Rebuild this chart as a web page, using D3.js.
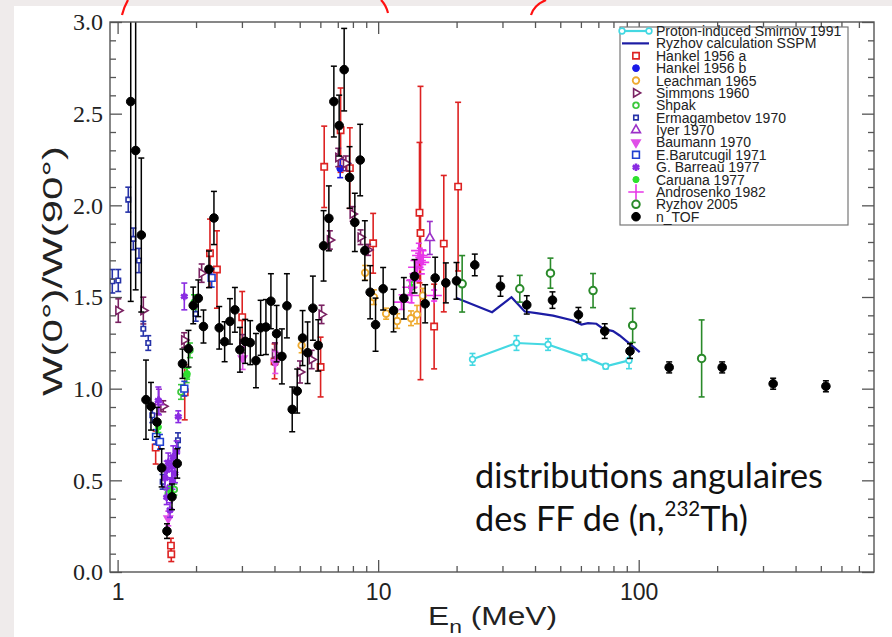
<!DOCTYPE html>
<html>
<head>
<meta charset="utf-8">
<script src="https://cdn.jsdelivr.net/npm/d3@7"></script>
<style>
html, body { margin: 0; padding: 0; background: #efebeb; }
svg { display: block; }
.serif { font-family: 'Liberation Serif', 'Times New Roman', serif; }
.sans { font-family: 'Liberation Sans', Arial, sans-serif; }
</style>
</head>
<body>
<svg id="chart" width="892" height="637"></svg>
<script>
// ---- data : [E (MeV), W(0)/W(90), error] ----
const smirnovProton = [[23.02,1.160,0.032],[33.96,1.249,0.04],[44.89,1.241,0.032],[61.9,1.172,0.018],[74.7,1.122,0.014],[91.8,1.154,0.045]];
const ryzhovCalc = [[19.98,1.494],[27.37,1.417],[32.49,1.499],[36.53,1.421],[40.52,1.412],[46.93,1.398],[55.98,1.372],[60.29,1.350],[63.9,1.357],[68.8,1.354],[72.96,1.327],[79.7,1.314],[84.5,1.290],[100.9,1.199]];
const hankelA = [[1.400,0.679,0.09],[1.602,0.144,0.04],[1.607,0.097,0.04],[1.810,0.980,0.15],[2.262,1.739,0.186],[2.406,1.650,0.211],[3.008,1.390,0.14],[4.004,1.149,0.095],[6.013,1.118,0.163],[6.208,2.210,0.222],[7.176,2.410,0.23],[7.789,2.203,0.22],[9.568,1.793,0.163],[14.41,1.960,0.383],[14.54,1.849,0.80],[16.40,1.339,0.231],[17.86,1.791,0.372],[20.27,2.102,0.46]];
const hankelB = [[7.15,2.201,0.05]];
const leachman = [[5.085,1.236,0.04],[8.916,1.632,0.04],[9.627,1.499,0.04],[10.73,1.409,0.03],[11.83,1.369,0.04],[13.37,1.384,0.04],[14.10,1.404,0.05],[14.84,1.507,0.04]];
const simmons = [[1.006,1.426,0.064],[1.255,1.426,0.073],[1.497,0.904,0.03],[1.80,1.265,0.04],[2.102,1.630,0.05],[3.019,1.245,0.05],[4.015,1.190,0.06],[5.012,1.091,0.06],[5.554,1.159,0.05],[6.066,1.405,0.05],[6.526,1.811,0.05],[7.025,2.261,0.05],[7.517,2.229,0.04],[7.977,1.953,0.04],[8.560,1.826,0.04],[9.154,1.757,0.03]];
const shpak = [[1.565,0.428,0.03],[1.650,0.450,0.03],[1.751,0.982,0.04],[1.841,1.073,0.04],[1.895,1.209,0.04]];
const ermagambetov = [[0.954,1.586,0.064],[1.006,1.590,0.06],[1.099,2.031,0.068],[1.149,1.817,0.059],[1.208,1.699,0.066],[1.255,1.327,0.04],[1.311,1.249,0.04],[1.359,0.855,0.04],[1.489,0.492,0.04],[1.705,0.719,0.04],[1.994,1.408,0.04]];
const iyer = [[1.441,0.927,0.07],[15.79,1.822,0.09]];
const baumann = [[1.565,0.292,0.04],[3.02,1.165,0.06],[4.03,1.143,0.06]];
const barutcugil = [[1.404,0.737,0.04],[1.454,0.710,0.04],[1.803,1.000,0.04],[2.296,1.604,0.05]];
const barreau = [[1.803,1.503,0.073],[1.433,0.936,0.073],[1.710,0.847,0.032],[1.519,0.512,0.05],[1.543,0.555,0.05],[1.565,0.599,0.05],[1.589,0.464,0.05],[1.613,0.573,0.06],[1.635,0.628,0.06],[1.660,0.537,0.05],[1.685,0.655,0.06],[1.589,0.338,0.04],[1.543,0.408,0.04],[1.624,0.501,0.05]];
const caruana = [[1.433,0.791,0.03],[1.602,0.436,0.03],[1.849,1.082,0.03],[1.964,1.472,0.04],[13.43,1.553,0.03]];
const androsenko = [[12.30,1.472,0.04],[13.23,1.553,0.04],[13.43,1.508,0.04],[13.71,1.590,0.04],[13.95,1.662,0.04],[14.11,1.626,0.04],[14.24,1.699,0.04],[14.45,1.726,0.04],[14.67,1.689,0.04],[14.88,1.717,0.04],[14.32,1.753,0.04],[16.40,1.508,0.03]];
const ryzhov2005 = [[21.01,1.572,0.154],[34.96,1.545,0.073],[45.85,1.630,0.082],[66.8,1.535,0.093],[94.8,1.345,0.093],[174.4,1.165,0.21]];
const nTOF = [[1.123,2.566,1.09],[1.173,2.299,0.76],[1.233,1.838,0.42],[1.285,0.940,0.216],[1.343,0.904,0.13],[1.416,0.818,0.08],[1.476,0.568,0.104],[1.547,0.223,0.04],[1.617,0.410,0.07],[1.694,0.592,0.08],
  [1.774,1.136,0.08],[1.871,1.218,0.10],[1.951,1.454,0.10],[2.040,1.493,0.10],[2.136,1.339,0.09],[2.242,1.651,0.10],[2.343,1.931,0.145],[2.455,1.332,0.116],[2.575,1.256,0.109],[2.699,1.367,0.124],
  [2.820,1.430,0.122],[2.948,1.212,0.122],[3.089,1.258,0.12],[3.228,1.251,0.12],[3.396,1.153,0.148],[3.540,1.332,0.15],[3.709,1.336,0.15],[3.876,1.477,0.15],[4.076,1.300,0.154],[4.272,1.176,0.15],
  [4.465,1.452,0.175],[4.679,0.887,0.122],[4.890,0.987,0.12],[5.129,1.276,0.15],[5.360,1.196,0.168],[5.617,1.439,0.175],[5.887,1.236,0.14],[6.174,1.779,0.192],[6.469,1.929,0.177],[6.761,2.566,0.193],
  [7.085,2.435,0.166],[7.405,2.740,0.225],[7.767,2.152,0.168],[8.138,1.907,0.159],[8.531,2.247,0.195],[8.892,1.753,0.163],[9.318,1.526,0.145],[9.773,1.349,0.145],[10.45,1.545,0.116],[11.46,1.426,0.116],
  [12.55,1.493,0.113],[13.79,1.613,0.091],[15.15,1.463,0.104],[16.55,1.604,0.113],[18.19,1.577,0.109],[19.98,1.588,0.10],[23.49,1.675,0.059],[29.48,1.559,0.055],[37.19,1.457,0.05],[46.67,1.483,0.045],
  [58.71,1.403,0.04],[74.06,1.314,0.04],[92.6,1.205,0.04],[130.9,1.116,0.03],[209.1,1.116,0.03],[328.1,1.027,0.03],[523,1.013,0.03]];

const xMajorTicks = [1, 10, 100];
const xMinorTicks = [2,3,4,5,6,7,8,9,20,30,40,50,60,70,80,90,200,300,400,500,600,700];
const yMajorTicks = [0, 0.5, 1.0, 1.5, 2.0, 2.5, 3.0];
const yMinorTicks = [0.1,0.2,0.3,0.4,0.6,0.7,0.8,0.9,1.1,1.2,1.3,1.4,1.6,1.7,1.8,1.9,2.1,2.2,2.3,2.4,2.6,2.7,2.8,2.9];

// ---- layout ----
const L = 110, R = 874, T = 22, B = 572;
const svg = d3.select('#chart');
const x = d3.scaleLog().domain([0.935, 800]).range([L, R]);
const y = d3.scaleLinear().domain([0, 3]).range([B, T]);

// white slide panel
svg.append('rect').attr('x', 14).attr('y', 6).attr('width', 878).attr('height', 631).attr('fill', '#ffffff');

// red slide marks at the top
const redMarks = ['M128,0 Q124,7 122,15', 'M381,0 Q386,5 388,13', 'M546,0 Q534,5 531,15'];
svg.selectAll('path.redmark').data(redMarks).enter().append('path')
  .attr('class', 'redmark').attr('d', d => d)
  .attr('fill', 'none').attr('stroke', '#ff1010').attr('stroke-width', 2.2);

svg.append('clipPath').attr('id', 'plotclip')
  .append('rect').attr('x', L).attr('y', T).attr('width', R - L).attr('height', B - T);

const plot = svg.append('g').attr('clip-path', 'url(#plotclip)');

const symbolTypes = {
  circle: d3.symbolCircle, square: d3.symbolSquare, triangle: d3.symbolTriangle,
  asterisk: d3.symbolAsterisk, plus: d3.symbolPlus
};

function addMarker(g, s, cx, cy) {
  const p = g.append('path')
    .attr('d', d3.symbol(symbolTypes[s.shape], s.size)())
    .attr('transform', `translate(${cx},${cy}) rotate(${s.rot || 0})`)
    .attr('stroke', s.color)
    .attr('stroke-width', s.sw);
  if (s.shape === 'asterisk' || s.shape === 'plus') p.attr('fill', 'none');
  else p.attr('fill', s.fill ? s.color : '#ffffff');
}

function drawErrors(g, data, color, sw) {
  data.forEach(d => {
    const xx = x(d[0]), y1 = y(d[1] - d[2]), y2 = y(d[1] + d[2]);
    g.append('line').attr('x1', xx).attr('x2', xx).attr('y1', y1).attr('y2', y2)
      .attr('stroke', color).attr('stroke-width', sw);
    [y1, y2].forEach(yy => g.append('line').attr('x1', xx - 3).attr('x2', xx + 3)
      .attr('y1', yy).attr('y2', yy).attr('stroke', color).attr('stroke-width', sw));
  });
}

const seriesList = [
  {name: 'Hankel 1956 a', data: hankelA, color: '#dd2222', shape: 'square', size: 40, sw: 1.6, fill: false},
  {name: 'Hankel 1956 b', data: hankelB, color: '#1a1ae8', shape: 'circle', size: 36, sw: 1, fill: true},
  {name: 'Leachman 1965', data: leachman, color: '#eeaa30', shape: 'circle', size: 34, sw: 1.8, fill: false},
  {name: 'Simmons 1960', data: simmons, color: '#7a2262', shape: 'triangle', rot: 90, size: 30, sw: 1.6, fill: false},
  {name: 'Shpak', data: shpak, color: '#3cc83c', shape: 'circle', size: 26, sw: 1.8, fill: false},
  {name: 'Ermagambetov 1970', data: ermagambetov, color: '#2632a8', shape: 'square', size: 20, sw: 1.6, fill: false},
  {name: 'Iyer 1970', data: iyer, color: '#9b30c8', shape: 'triangle', size: 34, sw: 1.6, fill: false},
  {name: 'Baumann 1970', data: baumann, color: '#e050e8', shape: 'triangle', rot: 180, size: 30, sw: 1.6, fill: true},
  {name: 'E.Barutcugil 1971', data: barutcugil, color: '#2040d0', shape: 'square', size: 46, sw: 1.6, fill: false},
  {name: 'G. Barreau 1977', data: barreau, color: '#8a2be2', shape: 'asterisk', size: 40, sw: 2.6, fill: true},
  {name: 'Caruana 1977', data: caruana, color: '#2ee02e', shape: 'circle', size: 30, sw: 1, fill: true},
  {name: 'Androsenko 1982', data: androsenko, color: '#e836e8', shape: 'plus', size: 80, sw: 1.6, fill: false},
  {name: 'Ryzhov 2005', data: ryzhov2005, color: '#2a8a2a', shape: 'circle', size: 44, sw: 2, fill: false},
  {name: 'n_TOF', data: nTOF, color: '#000000', shape: 'circle', size: 58, sw: 1, fill: true}
];
const smirnovStyle = {color: '#44d8e2', shape: 'circle', size: 26, sw: 1.6, fill: false};
const ryzhovCalcColor = '#1c1ca4';

// ---- lines ----
const line = d3.line().x(d => x(d[0])).y(d => y(d[1]));
plot.append('path').datum(ryzhovCalc).attr('d', line)
  .attr('fill', 'none').attr('stroke', ryzhovCalcColor).attr('stroke-width', 2.2);
plot.append('path').datum(smirnovProton).attr('d', line)
  .attr('fill', 'none').attr('stroke', smirnovStyle.color).attr('stroke-width', 2.2);
drawErrors(plot, smirnovProton, smirnovStyle.color, 1.6);
smirnovProton.forEach(d => addMarker(plot, smirnovStyle, x(d[0]), y(d[1])));

// ---- point series ----
seriesList.forEach(s => {
  const g = plot.append('g');
  drawErrors(g, s.data, s.color, s.name === 'n_TOF' ? 1.5 : 1.6);
  s.data.forEach(d => addMarker(g, s, x(d[0]), y(d[1])));
});

// ---- axes ----
const axisColor = '#555555';
function styleAxis(g) {
  g.select('.domain').remove();
  g.selectAll('.tick line').attr('stroke', axisColor).attr('stroke-width', 1.3);
}
const noLabel = () => '';

svg.append('g').attr('transform', `translate(0,${B})`)
  .call(d3.axisBottom(x).tickValues(xMajorTicks).tickSizeInner(-12).tickSizeOuter(0).tickPadding(12).tickFormat(d3.format('d')))
  .call(styleAxis)
  .call(g => g.attr('font-family', null).attr('font-size', null))
  .call(g => g.selectAll('text').attr('class', 'sans').style('font-size', '23px').attr('fill', '#222'));
svg.append('g').attr('transform', `translate(0,${B})`)
  .call(d3.axisBottom(x).tickValues(xMinorTicks).tickSizeInner(-6).tickSizeOuter(0).tickFormat(noLabel)).call(styleAxis);
svg.append('g').attr('transform', `translate(0,${T})`)
  .call(d3.axisTop(x).tickValues(xMajorTicks).tickSizeInner(-12).tickSizeOuter(0).tickFormat(noLabel)).call(styleAxis);
svg.append('g').attr('transform', `translate(0,${T})`)
  .call(d3.axisTop(x).tickValues(xMinorTicks).tickSizeInner(-6).tickSizeOuter(0).tickFormat(noLabel)).call(styleAxis);

svg.append('g').attr('transform', `translate(${L},0)`)
  .call(d3.axisLeft(y).tickValues(yMajorTicks).tickSizeInner(-12).tickSizeOuter(0).tickPadding(7).tickFormat(d3.format('.1f')))
  .call(styleAxis)
  .call(g => g.attr('font-family', null).attr('font-size', null))
  .call(g => g.selectAll('text').attr('class', 'serif').style('font-size', '24px').attr('fill', '#222'));
svg.append('g').attr('transform', `translate(${L},0)`)
  .call(d3.axisLeft(y).tickValues(yMinorTicks).tickSizeInner(-6).tickSizeOuter(0).tickFormat(noLabel)).call(styleAxis);
svg.append('g').attr('transform', `translate(${R},0)`)
  .call(d3.axisRight(y).tickValues(yMajorTicks).tickSizeInner(-12).tickSizeOuter(0).tickFormat(noLabel)).call(styleAxis);
svg.append('g').attr('transform', `translate(${R},0)`)
  .call(d3.axisRight(y).tickValues(yMinorTicks).tickSizeInner(-6).tickSizeOuter(0).tickFormat(noLabel)).call(styleAxis);

svg.append('rect').attr('x', L).attr('y', T).attr('width', R - L).attr('height', B - T)
  .attr('fill', 'none').attr('stroke', axisColor).attr('stroke-width', 1.4);

// axis titles
const xt = svg.append('text').attr('class', 'sans').attr('x', 428).attr('y', 625)
  .style('font-size', '25px').attr('fill', '#222')
  .attr('textLength', 129).attr('lengthAdjust', 'spacingAndGlyphs');
xt.append('tspan').text('E');
xt.append('tspan').style('font-size', '18px').attr('dy', 8).text('n');
xt.append('tspan').attr('dy', -8).text(' (MeV)');

svg.append('text').attr('class', 'sans').attr('transform', 'translate(62,271) rotate(-90)')
  .attr('text-anchor', 'middle')
  .style('font-size', '28px').attr('fill', '#222')
  .attr('textLength', 250).attr('lengthAdjust', 'spacingAndGlyphs')
  .text('W(0°)/W(90°)');

// ---- legend ----
const legend = svg.append('g');
legend.append('rect').attr('x', 620).attr('y', 27).attr('width', 228).attr('height', 198)
  .attr('fill', '#ffffff').attr('stroke', '#777').attr('stroke-width', 1.2);
const legendNames = ['Proton-induced Smirnov 1991', 'Ryzhov calculation SSPM'].concat(seriesList.map(s => s.name));
const ly = i => 31 + i * 12.38;
legend.selectAll('text').data(legendNames).enter().append('text')
  .attr('class', 'sans')
  .attr('x', 656).attr('y', (d, i) => ly(i)).attr('dy', '0.36em')
  .style('font-size', '14px').attr('fill', '#222')
  .text(d => d);
legend.append('line').attr('x1', 622).attr('x2', 649).attr('y1', ly(0)).attr('y2', ly(0))
  .attr('stroke', smirnovStyle.color).attr('stroke-width', 2.2);
[622, 649].forEach(px => addMarker(legend, smirnovStyle, px, ly(0)));
legend.append('line').attr('x1', 622).attr('x2', 649).attr('y1', ly(1)).attr('y2', ly(1))
  .attr('stroke', ryzhovCalcColor).attr('stroke-width', 2.2);
seriesList.forEach((s, i) => addMarker(legend, s, 636, ly(i + 2)));

// ---- slide annotation ----
const note = svg.append('g').style('font-family', "Lato, 'Open Sans', sans-serif").attr('fill', '#111');
const n1 = note.append('text').attr('x', 475).attr('y', 488).style('font-size', '32px').text('distributions angulaires');
const fs = 32 * 348 / n1.node().getComputedTextLength();
n1.style('font-size', fs + 'px');
const n2 = note.append('text').attr('x', 475).attr('y', 531).style('font-size', fs + 'px');
n2.append('tspan').text('des FF de (n,');
n2.append('tspan').style('font-size', (fs * 0.6) + 'px').attr('dy', -15).text('232');
n2.append('tspan').attr('dy', 15).text('Th)');
</script>
</body>
</html>
